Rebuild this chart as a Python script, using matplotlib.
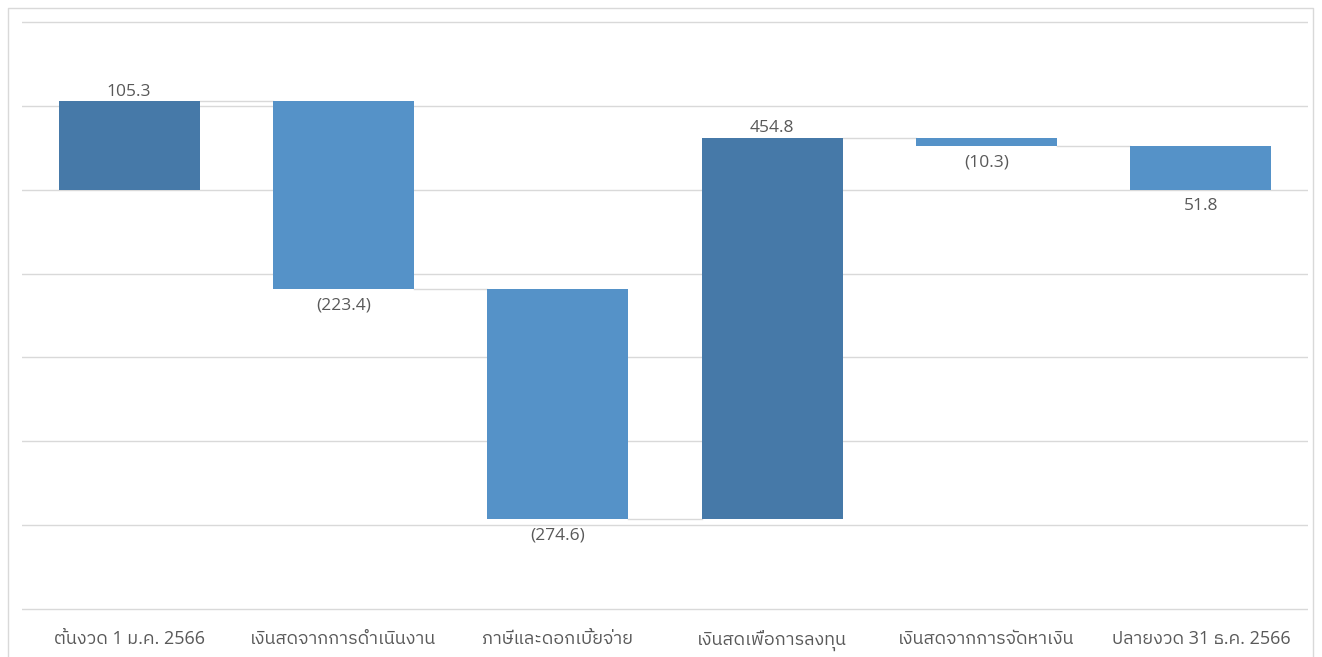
import numpy as np
import matplotlib
matplotlib.use('Agg')
import matplotlib.pyplot as plt

# waterfall data (million baht)
categories = ['ต้นงวด 1 ม.ค. 2566', 'เงินสดจากการดำเนินงาน', 'ภาษีและดอกเบี้ยจ่าย',
              'เงินสดเพื่อการลงทุน', 'เงินสดจากการจัดหาเงิน', 'ปลายงวด 31 ธ.ค. 2566']
changes = [105.3, -223.4, -274.6, 454.8, -10.3, 51.8]
is_total = [True, False, False, False, False, True]
value_labels = ['105.3', '(223.4)', '(274.6)', '454.8', '(10.3)', '51.8']

plt.rcParams['font.family'] = ['Open Sans', 'IBM Plex Sans Thai', 'DejaVu Sans']

dark = '#4679A8'
light = '#5592C8'
txt = '#595959'

# bar bottoms/tops
bottoms = []
heights = []
level = 0.0
for i in range(len(changes)):
    if is_total[i]:
        bottoms.append(0.0)
        heights.append(changes[i])
        level = changes[i]
    else:
        bottoms.append(level)
        heights.append(changes[i])
        level = level + changes[i]
bottoms = np.array(bottoms)
heights = np.array(heights)
colors = [dark, light, light, dark, light, light]

fig = plt.figure(figsize=(13.22, 6.57), dpi=100)
# y range padded a little so the -500 gridline isn't clipped
ax = fig.add_axes([22/1322, 46/657, 1286/1322, 591/657])

x = np.arange(len(categories))
w = 0.657
ax.bar(x, heights, bottom=bottoms, width=w, color=colors, zorder=3)

# connectors
ends = bottoms + heights
for i in range(len(categories) - 1):
    lv = ends[i]
    ax.plot([x[i] + w/2, x[i+1] - w/2], [lv, lv], color='#D9D9D9', lw=1, zorder=2)

# value labels
for i in range(len(categories)):
    top = max(bottoms[i], ends[i])
    bot = min(bottoms[i], ends[i])
    if i in (0, 3):
        ax.annotate(value_labels[i], (x[i], top), xytext=(0, 6.8), textcoords='offset points',
                    ha='center', va='center', fontsize=12.5, color=txt)
    else:
        ax.annotate(value_labels[i], (x[i], bot), xytext=(0, -11.8), textcoords='offset points',
                    ha='center', va='center', fontsize=12.5, color=txt)

ax.set_xlim(-0.5, 5.5)
ax.set_ylim(-502.4, 202.4)
ax.set_yticks(np.arange(-500, 201, 100))
ax.set_yticklabels([])
ax.tick_params(axis='y', length=0)
ax.grid(axis='y', color='#D9D9D9', lw=1, zorder=0)
ax.set_xticks(x)
ax.set_xticklabels(categories, fontsize=13, color=txt)
for lab in ax.get_xticklabels():
    lab.set_va('baseline')
ax.tick_params(axis='x', length=0, pad=24)
for s in ax.spines.values():
    s.set_visible(False)

# outer chart border
fig.add_artist(plt.Line2D([8/1322, 8/1322, 1313/1322, 1313/1322],
                          [0, 649/657, 649/657, 0], color='#D9D9D9', lw=1,
                          transform=fig.transFigure))

fig.savefig('out.png', dpi=100)
